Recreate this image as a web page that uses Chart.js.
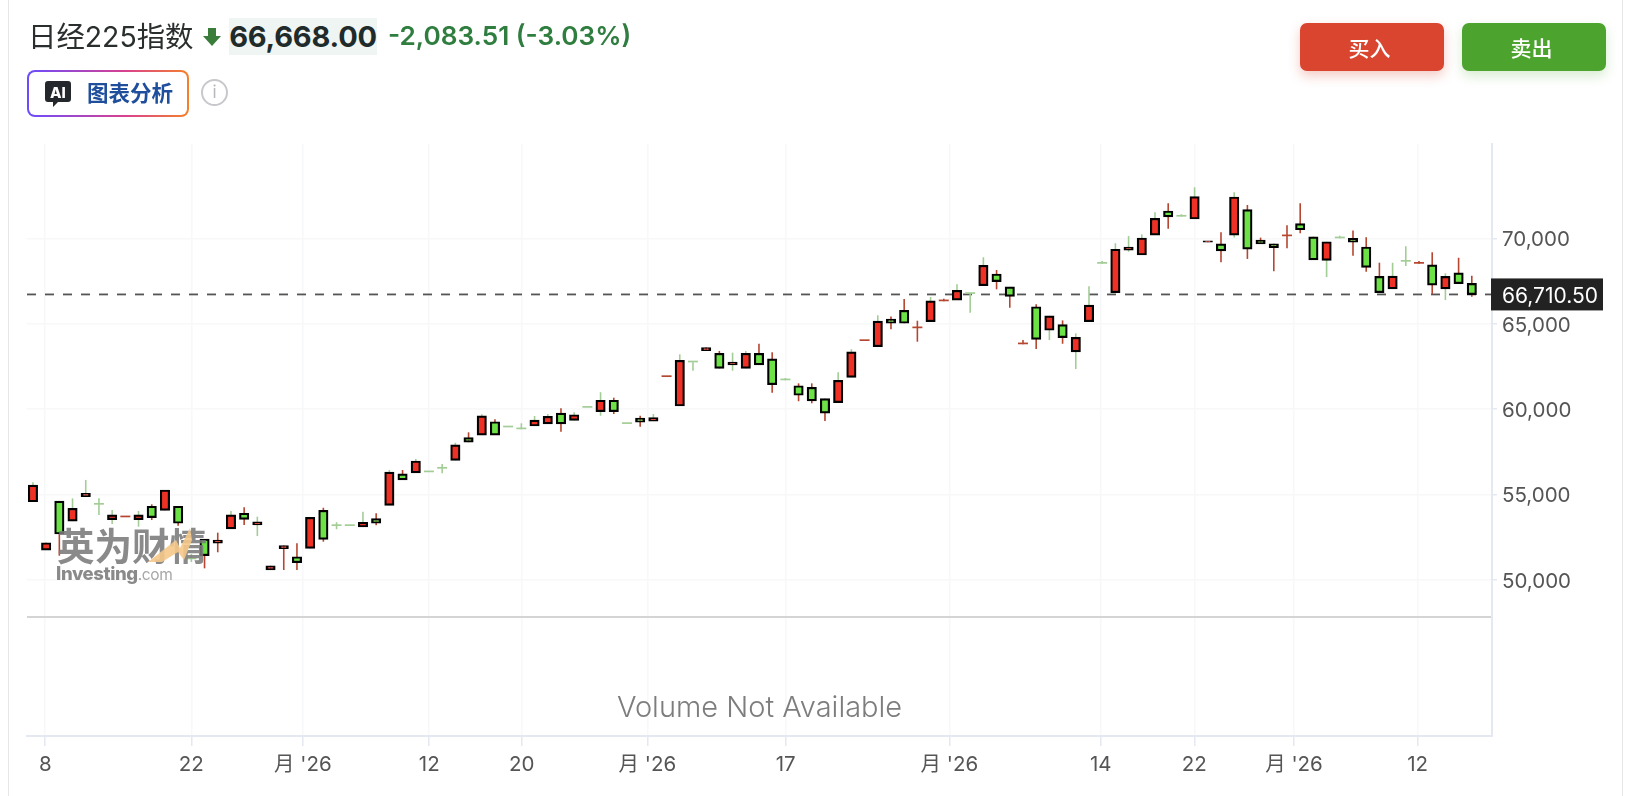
<!DOCTYPE html>
<html lang="zh">
<head>
<meta charset="utf-8">
<title>日经225指数</title>
<script src="https://cdn.jsdelivr.net/npm/chart.js@4/dist/chart.umd.min.js"></script>
<style>
  html, body { margin: 0; padding: 0; background: #fff; }
  body { position: relative; width: 1630px; height: 796px; overflow: hidden; font-family: Inter, "Noto Sans CJK SC", sans-serif; }
  canvas { position: absolute; left: 0; top: 0; }
  .edge { position: absolute; top: 0; bottom: 0; width: 1px; background: #e6e6e6; }
  .abs { position: absolute; white-space: nowrap; }
  .name { left: 28px; top: 18px; line-height: 38px; font-size: 28.4px; color: #2a2e2e; font-family: Inter, "Noto Sans CJK SC", sans-serif; }
  .price { left: 229px; top: 18px; width: 148px; height: 37px; line-height: 37px; text-align: center; background: #eff5f2; font-size: 29px; font-weight: 700; color: #1f2a2a; letter-spacing: -.2px; }
  .change { left: 388px; top: 17px; line-height: 37px; font-size: 26.2px; font-weight: 600; color: #2f7d3f; }
  .ai { left: 27px; top: 70px; width: 162px; height: 47px; box-sizing: border-box; border: 2px solid transparent; border-radius: 8px;
        background: linear-gradient(#fff, #fff) padding-box, linear-gradient(90deg, #6a4cff, #d8418f 60%, #f5812a) border-box; }
  .ai-text { left: 87px; top: 75px; line-height: 34px; font-size: 21.5px; font-weight: 700; color: #1f4f9c; font-family: "Noto Sans CJK SC", sans-serif; }
  .info { left: 201px; top: 79px; width: 23px; height: 23px; border: 2px solid #c8c8cc; border-radius: 50%; text-align: center; line-height: 23px; font-size: 17px; color: #b8b8bc; }
  .btn { top: 23px; width: 144px; height: 48px; line-height: 49px; text-align: center; border-radius: 7px; color: #fff; font-size: 21px; font-family: "Noto Sans CJK SC", sans-serif; font-weight: 500; text-indent: -5px; }
  .buy { left: 1300px; background: #d9452f; box-shadow: 0 5px 12px rgba(217, 69, 47, .28); }
  .sell { left: 1462px; background: #4ca42e; box-shadow: 0 5px 12px rgba(76, 164, 46, .22); }
  .wm { pointer-events: none; color: #7a7a7a; opacity: .88; }
  .wm-cn { left: 57px; top: 518px; font-size: 37.5px; line-height: 52px; font-weight: 700; font-family: "Noto Sans CJK SC", sans-serif; }
  .wm-en { left: 56px; top: 561px; font-size: 18.5px; line-height: 24px; font-weight: 800; letter-spacing: -.4px; }
  .wm-en span { font-weight: 400; color: #9a9a9a; font-size: 15.5px; }
</style>
</head>
<body>
<canvas id="chart" width="1630" height="796"></canvas>
<div class="edge" style="left:8px"></div>
<div class="edge" style="left:1622px"></div>

<div class="abs name">日经225指数</div>
<svg class="abs" style="left:203px;top:28px" width="18" height="18" viewBox="0 0 18 18"><path d="M5 0h8v8h5L9 18 0 8h5z" fill="#3a7d3a"/></svg>
<div class="abs price">66,668.00</div>
<div class="abs change">-2,083.51 (-3.03%)</div>

<div class="abs ai"></div>
<svg class="abs" style="left:45px;top:81px" width="26" height="26" viewBox="0 0 26 26">
  <path d="M3 0h20a3 3 0 0 1 3 3v15a3 3 0 0 1-3 3H13l-5 5v-5H3a3 3 0 0 1-3-3V3a3 3 0 0 1 3-3z" fill="#24272b"/>
  <text x="13" y="16.5" text-anchor="middle" font-size="15" font-weight="800" fill="#fff" font-family="Inter">AI</text>
</svg>
<div class="abs ai-text">图表分析</div>
<div class="abs info">i</div>

<div class="abs btn buy">买入</div>
<div class="abs btn sell">卖出</div>

<svg class="abs" style="left:148px;top:528px;pointer-events:none;z-index:2" width="44" height="34"><path d="M0 34L28 12l4 8L42 0l2 12-8 20-6-8-16 10z" fill="#f5c98a" opacity=".9"/></svg>
<div class="abs wm wm-cn">英为财情</div>
<div class="abs wm wm-en">Investing<span>.com</span></div>

<script>
// candles, one entry per trading day
const opens = [54560,51730,54600,53420,54860,54390,53510,53650,53510,54300,54060,54300,51190,52380,52130,52970,53890,53200,50560,51810,51340,51830,54060,53140,53140,53080,53570,54350,56200,56250,56290,56500,56990,58320,58470,59250,58920,58810,59000,59120,59760,59330,60070,59840,60510,59120,59470,59290,61870,60170,62730,63410,63260,62580,62380,63260,62940,61680,61360,61270,60600,60370,61850,63980,63650,65270,65780,64730,65110,66310,66380,66740,67220,67910,67150,63790,65990,64610,64940,63340,65110,68510,66810,69310,69020,70190,71600,71270,71130,69770,69680,70190,71680,69900,69680,70120,70860,70090,68710,70000,70000,69490,67770,67030,68630,68510,68440,67030,67980,67360];
const closes = [55540,52160,52670,54180,55060,54390,53790,53650,53790,53630,55250,53300,51190,51400,52320,53790,53530,53380,50810,51990,50990,53650,52360,53140,53140,53360,53300,56300,55840,56950,56290,56500,57890,58050,59590,58470,58920,58810,59350,59570,59120,59660,60070,60510,59840,59120,59220,59490,61870,62850,62730,63600,62380,62750,63260,62580,61420,61680,60800,60470,59750,61680,63350,63980,65150,65020,65020,64730,66330,66310,66950,66740,68420,67460,66600,63790,64080,65460,64180,64200,66090,68510,69360,69490,70020,71170,71250,71270,72440,69830,69260,72420,69360,69670,69450,70120,70500,68730,69800,70000,69770,68300,66810,67790,68630,68510,67250,67770,67340,66700];
const highs = [55700,52160,54600,54760,55840,54760,54080,53650,54020,54410,55250,54300,51500,52380,52750,54020,54240,53690,50810,51990,52130,53650,54210,53360,53140,53980,53890,56420,56420,57070,56290,56770,58020,58630,59690,59390,58920,59160,59590,59700,60040,59800,60070,60980,60660,59120,59600,59700,61870,63200,62730,63600,63400,63300,63400,63820,63320,61810,61500,61500,60600,62150,63500,63980,65490,65410,66440,65170,66560,66460,67300,66740,68890,68140,67150,64040,66130,65460,65190,64430,67190,68670,69710,70130,70230,71520,72050,71410,72990,69830,70350,72700,71950,70040,69680,70760,72050,70090,69800,70150,70450,70060,68570,68570,69530,68670,69180,67950,68860,67810];
const lows = [54560,51730,51400,53420,54860,53790,53260,53650,53100,53490,54060,53160,51030,50660,51600,52970,53200,52550,50560,50560,50560,51830,52220,52950,53140,53080,53180,54350,55840,56250,56290,56230,56990,58050,58470,58470,58920,58810,59000,59120,58670,59330,60070,59600,59700,59120,58960,59290,61870,60170,62240,63410,62380,62240,62380,62580,60950,61680,60450,60330,59290,60370,61850,63980,63650,64670,65020,63940,65110,66310,66380,65640,67220,67010,65930,63790,63510,64040,63820,62340,65110,68510,66810,69210,69020,70190,70560,71270,71130,69770,68590,70040,68790,69670,68070,69410,70290,68730,67730,70000,68980,68040,66810,67030,68380,68510,66740,66380,67340,66580];
// wick tone in the source chart does not always follow the body: 1 = red, 0 = green
const wickRed = [0,1,1,0,0,0,0,1,0,1,1,1,0,1,1,0,1,0,1,1,1,1,1,0,0,0,1,0,1,0,0,0,0,1,0,1,0,0,0,0,1,0,0,0,1,0,1,0,1,0,0,1,1,0,0,1,1,0,1,1,1,0,0,1,0,1,1,1,0,1,0,0,0,1,1,1,1,0,1,0,0,0,0,0,0,0,1,0,0,1,1,0,1,1,1,1,1,1,0,0,1,1,1,0,0,1,1,0,1,1];

const priceTicks = [70000, 65000, 60000, 55000, 50000];
const timeTickAt = [0.93, 12, 20.45, 30.02, 37.02, 46.54, 57.02, 69.42, 80.89, 87.98, 95.53, 104.9];
const timeTickLabels = ['8', '22', "月 '26", '12', '20', "月 '26", '17', "月 '26", '14', '22', "月 '26", '12'];
const lastPrice = 66710.5;
const volumePaneEdge = 47800;

const RED = '#ee3124', GREEN = '#6ce246';
const WICK_RED = '#b5462f', WICK_GREEN = '#a3cd96';
const FRAME = '#e4e8f0', GRID = '#f7f8f9', TEXT = '#555';

// split into wicks, real bodies and flat doji dashes
const wicks = [], wickColors = [], bodies = [], bodyColors = [], dojis = [], dojiColors = [];
opens.forEach((o, i) => {
    const tone = wickRed[i] ? WICK_RED : WICK_GREEN;
    if (highs[i] > lows[i]) {
        wicks.push({ x: i, y: [lows[i], highs[i]] });
        wickColors.push(tone);
    }
    if (o === closes[i]) {
        dojis.push({ x: i, y: [o, o] });
        dojiColors.push(tone);
    } else {
        bodies.push({ x: i, y: [Math.min(o, closes[i]), Math.max(o, closes[i])] });
        bodyColors.push(closes[i] > o ? RED : GREEN);
    }
});

// dashed last price line under the candles, price tag and pane caption on top
const overlay = {
    id: 'overlay',
    beforeDatasetsDraw(chart) {
        const { ctx, chartArea, scales } = chart;
        const y = scales.y.getPixelForValue(lastPrice);
        ctx.save();
        ctx.strokeStyle = '#555';
        ctx.lineWidth = 1.8;
        ctx.setLineDash([9, 9]);
        ctx.beginPath();
        ctx.moveTo(chartArea.left, y);
        ctx.lineTo(chartArea.right, y);
        ctx.stroke();
        ctx.restore();
    },
    afterDraw(chart) {
        const { ctx, chartArea, scales } = chart;
        const y = scales.y.getPixelForValue(lastPrice);
        ctx.save();
        ctx.fillStyle = '#222';
        ctx.fillRect(chartArea.right - 1, y - 16, 112, 32);
        ctx.fillStyle = '#fff';
        ctx.font = '21px Inter';
        ctx.textBaseline = 'middle';
        ctx.fillText(lastPrice.toLocaleString('en-US', { minimumFractionDigits: 2 }), chartArea.right + 10, y + 2);
        ctx.fillStyle = '#7d7d7d';
        ctx.font = '300 29px Inter';
        ctx.textAlign = 'center';
        ctx.fillText('Volume Not Available', (chartArea.left + chartArea.right) / 2, chartArea.bottom - 28);
        ctx.restore();
    }
};

new Chart(document.getElementById('chart'), {
    type: 'bar',
    data: {
        datasets: [
            { data: bodies, backgroundColor: bodyColors, borderColor: '#000', borderWidth: 2.2, borderSkipped: false, barThickness: 9.4, minBarLength: 1.5, order: 1 },
            { data: dojis, backgroundColor: dojiColors, borderWidth: 0, barThickness: 10, minBarLength: 1.7, inflateAmount: 0, order: 2 },
            { data: wicks, backgroundColor: wickColors, borderWidth: 0, barThickness: 1.6, inflateAmount: 0, order: 3 }
        ]
    },
    options: {
        responsive: false,
        animation: false,
        grouped: false,
        events: [],
        layout: { padding: { left: 27, top: 144, right: 0, bottom: 0 } },
        plugins: { legend: { display: false }, tooltip: { enabled: false } },
        scales: {
            x: {
                type: 'linear',
                offset: false,
                min: -0.45,
                max: 110.53,
                afterBuildTicks: scale => { scale.ticks = timeTickAt.map(value => ({ value })); },
                afterFit: scale => { scale.height = 60; },
                grid: { offset: false, color: GRID, lineWidth: 1.5, tickColor: FRAME, tickLength: 10 },
                border: { color: FRAME, width: 2 },
                ticks: {
                    autoSkip: false,
                    maxRotation: 0,
                    padding: 7,
                    color: TEXT,
                    font: { family: 'Inter, "Noto Sans CJK SC"', size: 20.5 },
                    callback: (value, i) => timeTickLabels[i]
                }
            },
            y: {
                type: 'linear',
                position: 'right',
                min: 40834,
                max: 75526,
                afterBuildTicks: scale => { scale.ticks = [...priceTicks, volumePaneEdge].map(value => ({ value })); },
                afterFit: scale => { scale.width = 138; },
                grid: {
                    color: ctx => ctx.tick && ctx.tick.value === volumePaneEdge ? '#d4d4d4' : GRID,
                    lineWidth: ctx => ctx.tick && ctx.tick.value === volumePaneEdge ? 2 : 1.5,
                    tickColor: ctx => ctx.tick && ctx.tick.value === volumePaneEdge ? 'rgba(0,0,0,0)' : FRAME,
                    tickLength: 5
                },
                border: { color: FRAME, width: 2 },
                ticks: {
                    padding: 5,
                    labelOffset: 2,
                    color: TEXT,
                    font: { family: 'Inter', size: 20.5 },
                    callback: value => value === volumePaneEdge ? '' : value.toLocaleString('en-US')
                }
            }
        }
    },
    plugins: [overlay]
});
</script>
</body>
</html>
